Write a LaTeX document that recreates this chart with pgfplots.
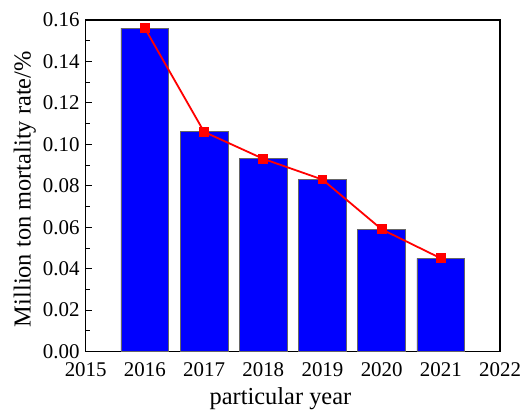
\documentclass[border=0pt]{standalone}
\usepackage{pgfplots}
\pgfplotsset{compat=1.18}
\usepackage{fontspec}
\setmainfont{Liberation Serif}
\begin{document}
\begin{tikzpicture}
\begin{axis}[
  scale only axis,
  width=416pt, height=333pt,
  xmin=2015, xmax=2022,
  ymin=0, ymax=0.16,
  xtick={2015,2016,...,2022},
  ytick={0,0.02,...,0.16},
  minor y tick num=1,
  tick align=inside,
  xtick pos=bottom, ytick pos=left,
  major tick length=6pt, minor tick length=4pt,
  axis line style={line width=1.4pt},
  tick style={black, line width=0.9pt},
  /pgf/number format/.cd, fixed, fixed zerofill, precision=2, assume math mode=true,
  /pgfplots/.cd,
  ticklabel style={font=\fontsize{21}{21}\selectfont, inner sep=1pt},
  xticklabel style={/pgf/number format/1000 sep={}, /pgf/number format/precision=0, yshift=-10pt},
  yticklabel style={xshift=-5pt},
  label style={font=\fontsize{24.5}{25}\selectfont},
  xlabel={particular year},
  ylabel={Million ton mortality rate/\%},
  xlabel style={at={(axis description cs:0.47,-0.141)}, anchor=center},
  ylabel style={at={(axis description cs:-0.147,0.49)}, anchor=center, rotate=0},
]
\addplot[ybar, bar width=48pt, fill={rgb,255:red,0;green,0;blue,255}, draw=gray!80!black, line width=0.8pt] coordinates {
  (2016,0.156) (2017,0.106) (2018,0.093) (2019,0.083) (2020,0.059) (2021,0.045)
};
\addplot[red, line width=1.8pt, mark=square*, mark size=4pt] coordinates {
  (2016,0.156) (2017,0.106) (2018,0.093) (2019,0.083) (2020,0.059) (2021,0.045)
};
\end{axis}
\path ([xshift=-86pt,yshift=20pt]current axis.north west) ([xshift=20pt,yshift=-60pt]current axis.south east);
\end{tikzpicture}
\end{document}
